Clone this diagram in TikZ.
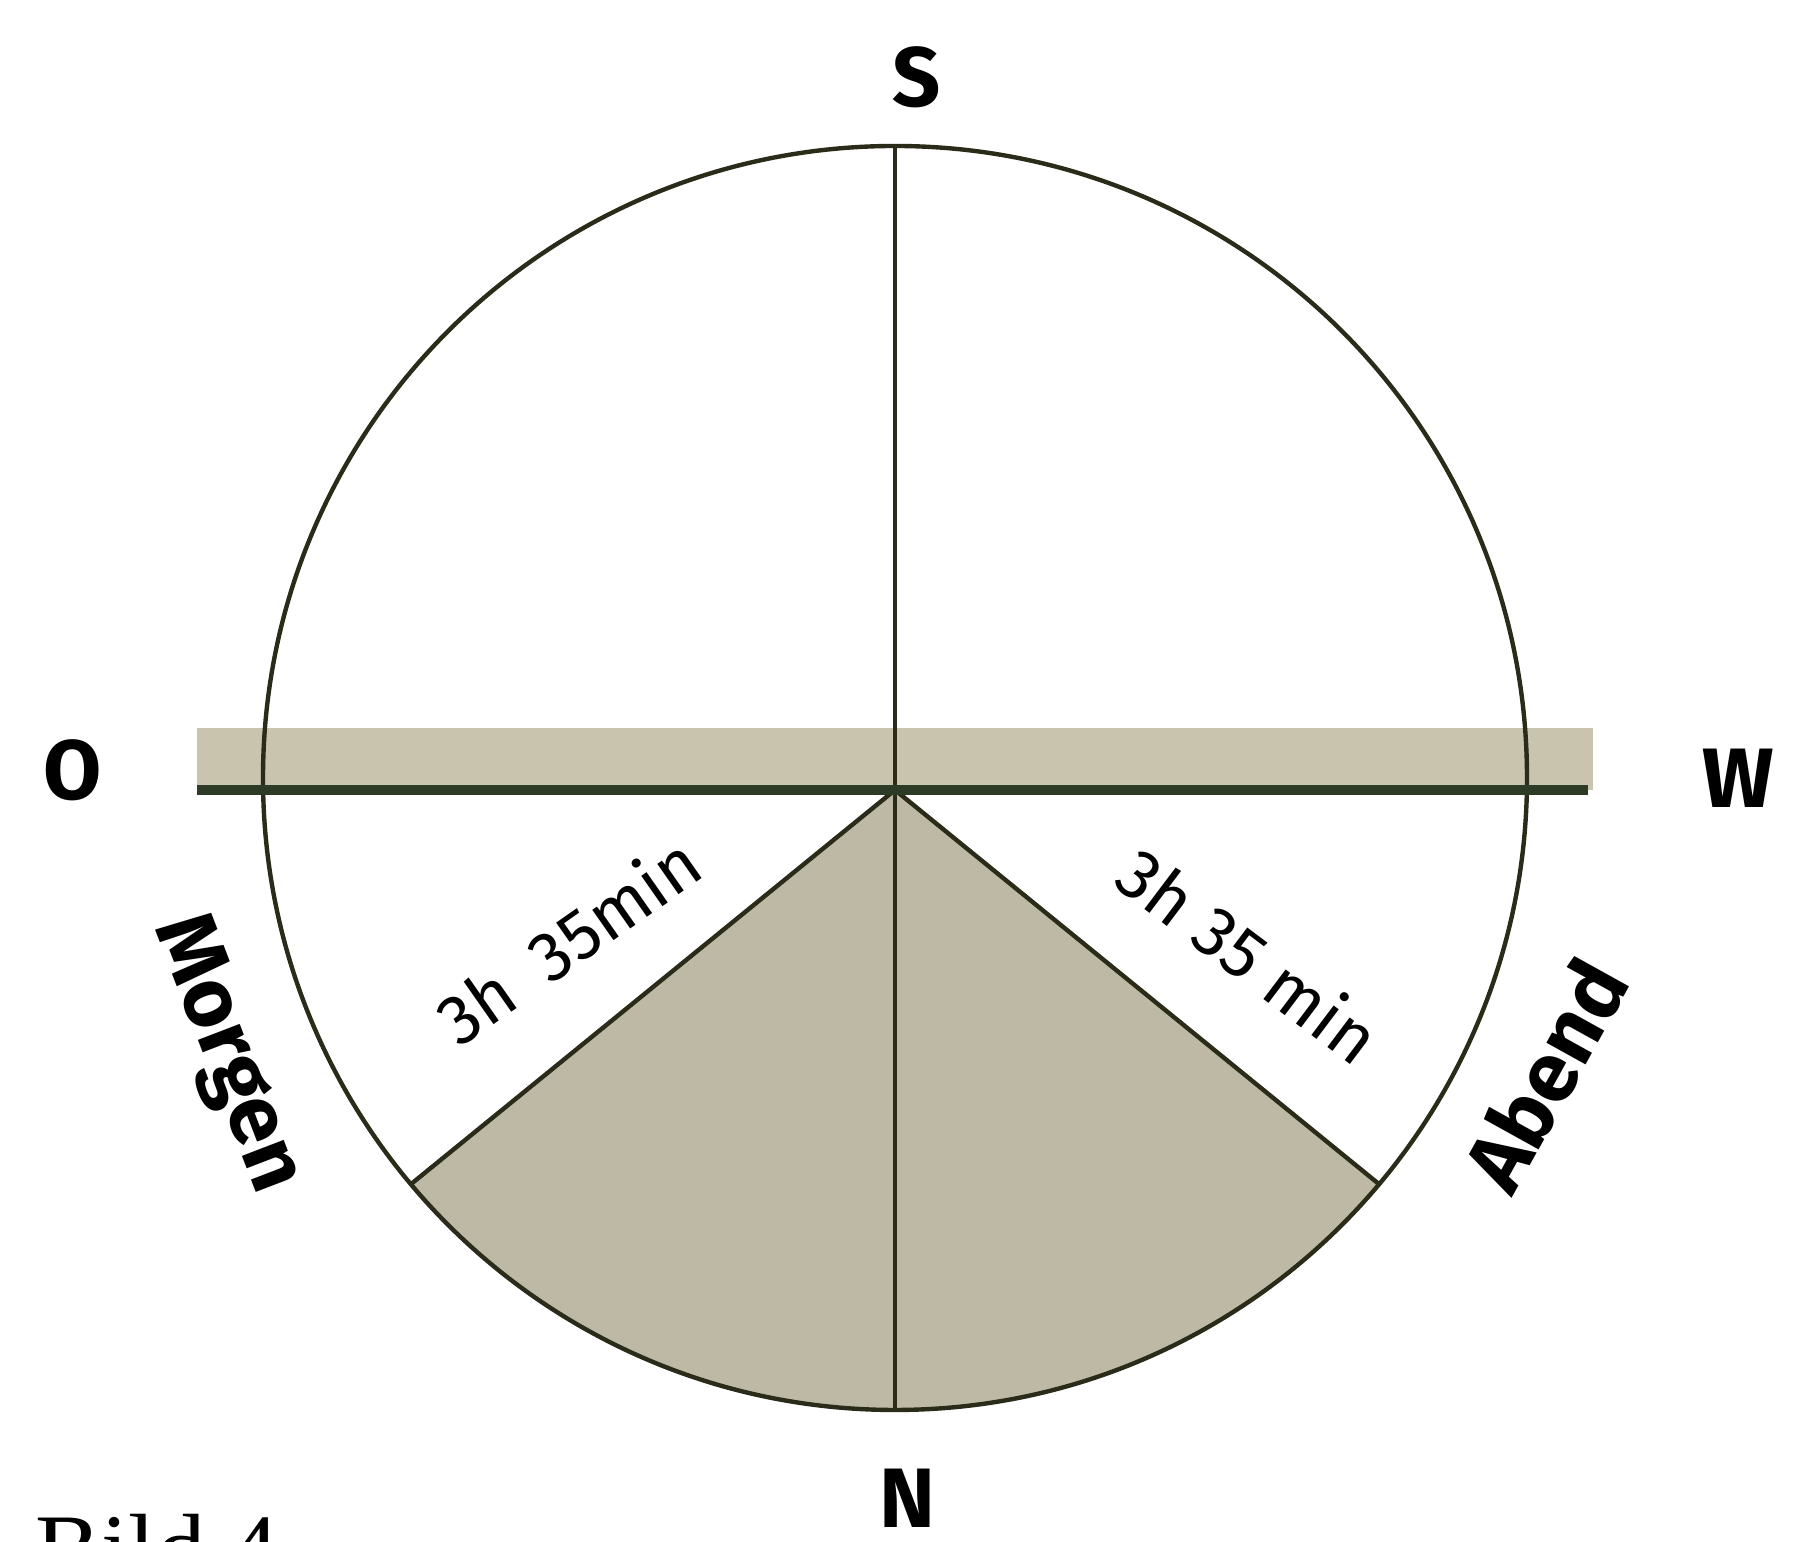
\documentclass[tikz,border=0pt]{standalone}
\usepackage{fontspec}
\setmainfont{Liberation Serif}
\newfontfamily\handfont{Fira Sans}
\definecolor{linec}{HTML}{2B2B1A}
\definecolor{horc}{HTML}{2C3A26}
\definecolor{shadec}{HTML}{BEB9A4}
\definecolor{bandc}{HTML}{C8C4AE}
\begin{document}
\begin{tikzpicture}[x=1cm,y=1cm,
  ln/.style={draw=linec, line width=1.25pt},
  hor/.style={draw=horc, line width=2.8pt},
  lab/.style={font=\handfont\fontsize{24}{28}\selectfont\bfseries, text=black, inner sep=0pt},
  tlab/.style={font=\handfont\fontsize{20}{24}\selectfont, text=black, inner sep=0pt}]
\useasboundingbox (0,0) rectangle (18.12,15.42);
\coordinate (C) at (8.95,7.64);
\coordinate (A) at (8.95,7.52);
\coordinate (L) at (4.109,3.578);
\coordinate (R) at (13.791,3.578);
\coordinate (T) at (8.95,13.96);
\coordinate (B) at (8.95,1.32);
\coordinate (HL) at (1.97,7.52);
\coordinate (HR) at (15.88,7.52);
% shaded night sector
\fill[shadec] (A) -- (L) arc[start angle=220, end angle=320, radius=6.32] -- cycle;
% horizon band
\fill[bandc] (1.97,7.52) rectangle (15.93,8.14);
% circle and meridian
\draw[ln] (C) circle[radius=6.32];
\draw[ln] (T) -- (B);
\draw[ln] (L) -- (A) -- (R);
% horizon line
\draw[hor] (HL) -- (HR);
% labels
\node[lab] (s) at (9.17,14.65) {S};
\node[lab] (o) at (0.73,7.72) {O};
\node[lab] (w) at (17.38,7.64) {W};
\node[lab] (n) at (9.07,0.44) {N};
\node[lab, rotate=-69] (morgen) at (2.25,4.87) {Morgen};
\node[lab, rotate=61] (abend) at (15.45,4.67) {Abend};
\node[tlab, rotate=35] (tl) at (5.68,6.02) {3h\hspace{0.5em}35min};
\node[tlab, rotate=-37] (tr) at (12.50,5.87) {3h 35 min};
\node[font=\fontsize{28}{32}\selectfont, inner sep=0pt, anchor=north west] (bild) at (0.35,0.28) {Bild 4};
\end{tikzpicture}
\end{document}
